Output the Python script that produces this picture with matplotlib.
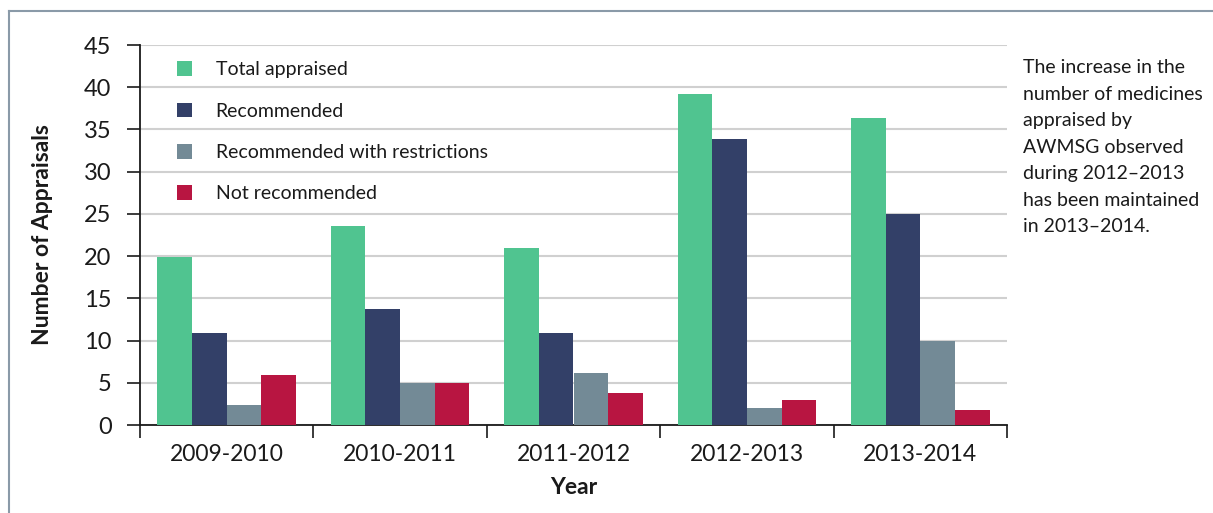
import matplotlib
matplotlib.use("Agg")
import matplotlib.pyplot as plt
import numpy as np
from matplotlib.lines import Line2D

years = ["2009-2010", "2010-2011", "2011-2012", "2012-2013", "2013-2014"]
total_appraised = [19.9, 23.6, 21.0, 39.2, 36.4]
recommended = [10.9, 13.7, 10.9, 33.9, 25.0]
recommended_restrictions = [2.4, 5.0, 6.2, 2.0, 10.0]
not_recommended = [5.9, 5.0, 3.8, 3.0, 1.8]
series_names = ["Total appraised", "Recommended",
                "Recommended with restrictions", "Not recommended"]
colors = ["#50C490", "#334068", "#738A96", "#B81541"]
note = ("The increase in the\nnumber of medicines\nappraised by\n"
        "AWMSG observed\nduring 2012\u20132013\nhas been maintained\nin 2013\u20132014.")

plt.rcParams['font.family'] = ['Lato', 'DejaVu Sans']

fig = plt.figure(figsize=(12.13, 5.13), dpi=100)
ax = fig.add_axes([140/1213, 1-425/513, (1007-140)/1213, 380/513])

data = [total_appraised, recommended, recommended_restrictions, not_recommended]
x = np.arange(len(years))
w = 0.2
for i, (vals, name, c) in enumerate(zip(data, series_names, colors)):
    ax.bar(x + (i - 1.5) * w, vals, width=w, color=c, label=name, zorder=3)

ax.set_xlim(-0.5, len(years) - 0.5)
ax.set_ylim(0, 45)
ax.set_yticks(np.arange(0, 46, 5))
ax.yaxis.grid(True, color="#d0d0d0", linewidth=1.5, zorder=0)
ax.set_axisbelow(True)

ax.set_xticks(x)
ax.set_xticklabels(years)
ax.set_xticks(np.arange(-0.5, len(years), 1), minor=True)
ax.tick_params(axis='x', which='major', length=0, labelsize=16.5, pad=14, colors="#1a1a1a")
ax.tick_params(axis='x', which='minor', length=9, width=1.2, direction='out', color="#1a1a1a")
ax.tick_params(axis='y', length=9.5, width=1.2, labelsize=17, pad=11, colors="#1a1a1a")

for s in ['top', 'right']:
    ax.spines[s].set_visible(False)
for s in ['left', 'bottom']:
    ax.spines[s].set_linewidth(1.3)
    ax.spines[s].set_color("#1a1a1a")

ax.set_ylabel("Number of Appraisals", fontsize=16.5, fontweight='bold', labelpad=22, color="#1a1a1a")
ax.set_xlabel("Year", fontsize=16.5, fontweight='bold', labelpad=8, color="#1a1a1a")

leg = ax.legend(loc='upper left', bbox_to_anchor=(0.027, 0.993), frameon=False,
                fontsize=14, handlelength=0.78, handleheight=0.78,
                handletextpad=1.2, labelspacing=1.25, borderaxespad=0.3)
for t in leg.get_texts():
    t.set_color("#1a1a1a")

fig.text(1023/1213, 1-59/513, note, fontsize=14, va='top', ha='left',
         linespacing=1.68, color="#1a1a1a")

frame_c = "#8A9AA8"
fig.add_artist(Line2D([9/1213, 1.0], [1-11/513, 1-11/513], transform=fig.transFigure,
                      color=frame_c, linewidth=1.5))
fig.add_artist(Line2D([9/1213, 9/1213], [0, 1-11/513], transform=fig.transFigure,
                      color=frame_c, linewidth=1.5))

fig.savefig("out.png", dpi=100)
